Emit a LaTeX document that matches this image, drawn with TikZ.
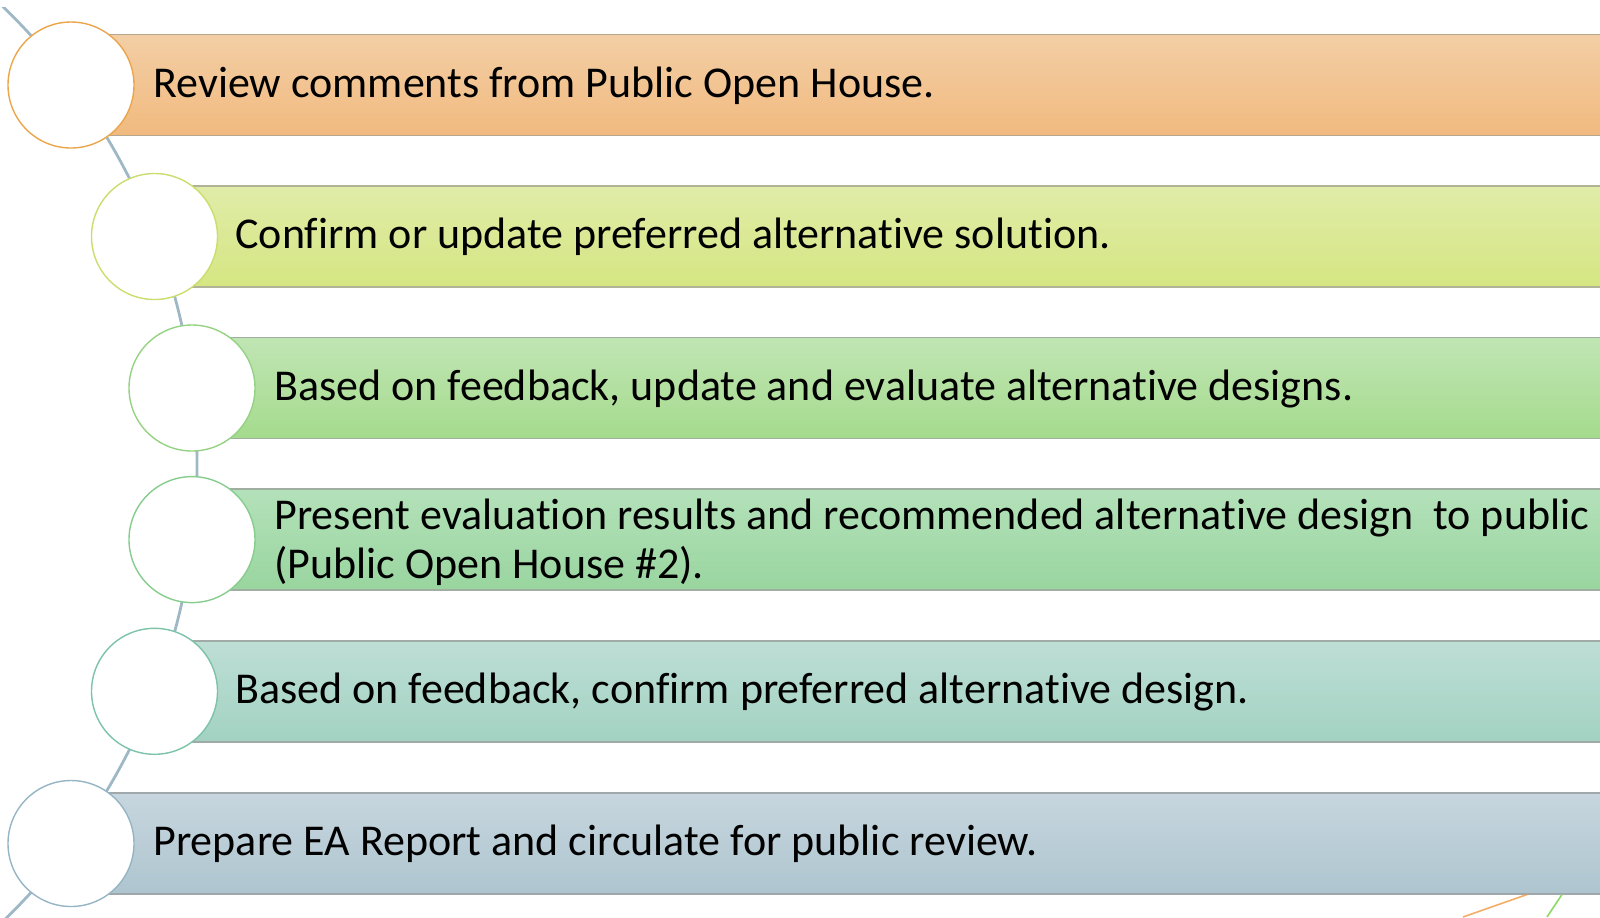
\documentclass[tikz,border=0pt]{standalone}
\usepackage{fontspec}
\setmainfont[Ligatures={NoCommon}]{Carlito}
\definecolor{arcc}{HTML}{9FB8C6}
\definecolor{t1}{HTML}{F3CEA5}\definecolor{b1}{HTML}{F1BA7F}\definecolor{s1}{HTML}{EBA54A}\definecolor{e1}{HTML}{B5A88F}
\definecolor{t2}{HTML}{E0ECA8}\definecolor{b2}{HTML}{D5E682}\definecolor{s2}{HTML}{C9DE6C}\definecolor{e2}{HTML}{B0B395}
\definecolor{t3}{HTML}{C0E5B4}\definecolor{b3}{HTML}{A5DB8D}\definecolor{s3}{HTML}{95D283}\definecolor{e3}{HTML}{A0AEA0}
\definecolor{t4}{HTML}{B4E1BA}\definecolor{b4}{HTML}{99D59F}\definecolor{s4}{HTML}{86CD8E}\definecolor{e4}{HTML}{A0AEA2}
\definecolor{t5}{HTML}{BEDED5}\definecolor{b5}{HTML}{A2D2C2}\definecolor{s5}{HTML}{7CC3A8}\definecolor{e5}{HTML}{A0ABA8}
\definecolor{t6}{HTML}{C7D6DE}\definecolor{b6}{HTML}{AEC5CF}\definecolor{s6}{HTML}{95B5C5}\definecolor{e6}{HTML}{A0A8AC}
\tikzset{
  bubble/.style={circle, fill=white, draw, line width=0.7pt, minimum size=63pt, inner sep=0pt},
  barbox/.style={rectangle, anchor=west, minimum height=50.5pt, inner sep=0pt, line width=0.8pt},
  label/.style={anchor=base west, inner sep=0pt, font=\fontsize{22}{24.5}\selectfont, align=left, text=black},
  arcline/.style={draw=arcc, line width=1.4pt}
}
\begin{document}
\begin{tikzpicture}[x=0.5pt, y=-0.5pt]
\useasboundingbox (0,0) rectangle (1600,917);
\begin{scope}
\clip (0,7) rectangle (1600,917);
\draw[arcline] (-439,464) circle[radius=318pt];
\end{scope}
\begin{scope}
\clip (0,0) rectangle (1600,917);
% bars
\node[barbox, top color=t1, bottom color=b1, draw=e1, minimum width=770pt] (bar1) at (71,85) {};
\node[barbox, top color=t2, bottom color=b2, draw=e2, minimum width=730pt] (bar2) at (154.5,236.5) {};
\node[barbox, top color=t3, bottom color=b3, draw=e3, minimum width=710pt] (bar3) at (192,388) {};
\node[barbox, top color=t4, bottom color=b4, draw=e4, minimum width=710pt] (bar4) at (192,539.6) {};
\node[barbox, top color=t5, bottom color=b5, draw=e5, minimum width=730pt] (bar5) at (154.5,691.3) {};
\node[barbox, top color=t6, bottom color=b6, draw=e6, minimum width=770pt] (bar6) at (71,843.5) {};
% circles
\node[bubble, draw=s1] (c1) at (71,85) {};
\node[bubble, draw=s2] (c2) at (154.5,236.5) {};
\node[bubble, draw=s3] (c3) at (192,388) {};
\node[bubble, draw=s4] (c4) at (192,539.6) {};
\node[bubble, draw=s5] (c5) at (154.5,691.3) {};
\node[bubble, draw=s6] (c6) at (71,843.5) {};
% labels
\node[label] (l1) at (153,97.3) {Review comments from Public Open House.};
\node[label] (l2) at (235,248.8) {Confirm or update preferred alternative solution.};
\node[label] (l3) at (274,400.3) {Based on feedback, update and evaluate alternative designs.};
\node[label] (l4) at (274,578) {Present evaluation results and recommended alternative design\ \ to public\\(Public Open House \#2).};
\node[label] (l5) at (235,703.6) {Based on feedback, confirm preferred alternative design.};
\node[label] (l6) at (153,855.8) {Prepare EA Report and circulate for public review.};
% partial decorative lines at bottom right
\coordinate (o1) at (1527,894.5);
\coordinate (o2) at (1463,917);
\coordinate (g1) at (1562,894.5);
\coordinate (g2) at (1547,917);
\draw[draw=orange!70!brown!80, line width=0.8pt, opacity=0.8] (o1) -- (o2);
\draw[draw=green!50!olive!60!white, line width=0.8pt] (g1) -- (g2);
\end{scope}
\end{tikzpicture}
\end{document}
